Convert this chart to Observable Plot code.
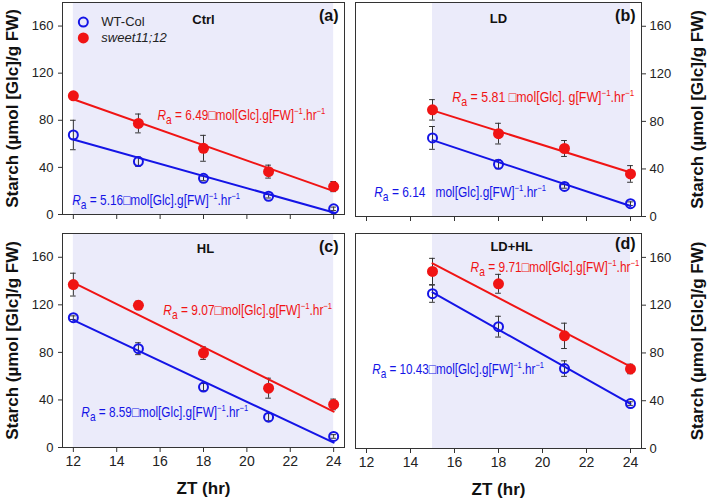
<!DOCTYPE html>
<html><head><meta charset="utf-8">
<script src="https://cdn.jsdelivr.net/npm/d3@7"></script>
<script src="https://cdn.jsdelivr.net/npm/@observablehq/plot@0.6"></script>
<style>
body{margin:0;background:#fff;}
#chart{position:relative;width:709px;height:502px;font-family:"Liberation Sans",Arial,sans-serif;}
#chart svg{position:absolute;}
</style></head><body><div id="chart"></div>
<script>
// ---- data ----
const zt5 = [12, 15, 18, 21, 24];
const zt4 = [15, 18, 21, 24];
const xTicks = [12, 14, 16, 18, 20, 22, 24];
const yTicks = [0, 40, 80, 120, 160];
const seriesNames = ["WT-Col", "sweet11;12"];
const panelTags = ["(a)", "(b)", "(c)", "(d)"];
const panelTitles = ["Ctrl", "LD", "HL", "LD+HL"];
const darkStart = [12, 15, 12, 15];

const ctrlWT = [67.5, 44.9, 30.7, 15.5, 4.8];
const ctrlWTerr = [12.5, 4, 2, 1.5, 1.5];
const ctrlSW = [100.8, 77.3, 56.2, 36.4, 23.7];
const ctrlSWerr = [3, 8, 11, 5.5, 4.3];

const ldWT = [66.1, 43.9, 25.3, 10.8];
const ldWTerr = [9.6, 3.7, 1.5, 1.5];
const ldSW = [89.7, 69.7, 57.2, 35.8];
const ldSWerr = [8.6, 8.7, 6.7, 7];

const hlWT = [109.2, 83.1, 50.8, 25.5, 9.3];
const hlWTerr = [1.5, 5, 3, 3, 1.5];
const hlSW = [137, 119.6, 79.4, 49.9, 36.2];
const hlSWerr = [9.6, 3.5, 5.3, 8.4, 4.5];

const ldhlWT = [129.6, 102, 66.9, 37.6];
const ldhlWTerr = [7.2, 8.7, 6.5, 1.5];
const ldhlSW = [148.2, 137.9, 94.3, 66.6];
const ldhlSWerr = [11, 7.9, 10.6, 4];

// annotation texts (R_a rates)
const rateWT = ["= 5.16\u25A1mol[Glc].g[FW]", "= 6.14   mol[Glc].g[FW]", "= 8.59\u25A1mol[Glc].g[FW]", "= 10.43\u25A1mol[Glc].g[FW]"];
const rateSW = ["= 6.49\u25A1mol[Glc].g[FW]", "= 5.81 \u25A1mol[Glc]. g[FW]", "= 9.07\u25A1mol[Glc].g[FW]", "= 9.71\u25A1mol[Glc].g[FW]"];
// annotation anchors (ZT, starch)
const annWTpos = [[11.95, 11.9], [12.35, 20.3], [12.37, 29.7], [12.26, 66.1]];
const annSWpos = [[15.88, 83.8], [15.9, 100.3], [16.15, 115.4], [16.73, 151.7]];
// rendered widths of annotations (px), narrow typeface look
const annWTwidth = [168, 172, 167, 172];
const annSWwidth = [168, 182, 169, 169];

const BLUE = "#1414e6", RED = "#f01414", SHADE = "#ebebfa", INK = "#333";
const yLabel = "Starch (\u00B5mol [Glc]/g FW)";

const panelData = [
  {xs: zt5, wt: ctrlWT, wte: ctrlWTerr, sw: ctrlSW, swe: ctrlSWerr},
  {xs: zt4, wt: ldWT, wte: ldWTerr, sw: ldSW, swe: ldSWerr},
  {xs: zt5, wt: hlWT, wte: hlWTerr, sw: hlSW, swe: hlSWerr},
  {xs: zt4, wt: ldhlWT, wte: ldhlWTerr, sw: ldhlSW, swe: ldhlSWerr}
];

// layout
const layout = [
  {left: 0, top: 0, width: 355, height: 232, ml: 62, mr: 11, mt: 2, mb: 18, side: "left", xlab: false, titleDx: 0, titleDy: 12, tagDy: 7},
  {left: 344, top: 0, width: 365, height: 232, ml: 11, mr: 68, mt: 2, mb: 16, side: "right", xlab: false, titleDx: 0, titleDy: 11, tagDy: 7},
  {left: 0, top: 224, width: 355, height: 278, ml: 62, mr: 11, mt: 9, mb: 55, side: "left", xlab: true, titleDx: 2, titleDy: 10, tagDy: 7},
  {left: 344, top: 224, width: 365, height: 278, ml: 11, mr: 68, mt: 9, mb: 54, side: "right", xlab: true, titleDx: 13, titleDy: 8, tagDy: 4}
];

const chart = document.getElementById("chart");

function seriesMarks(rows, color, filled) {
  return [
    Plot.ruleX(rows, {x: "x", y1: d => d.y - d.e, y2: d => d.y + d.e, stroke: INK, strokeWidth: 1}),
    Plot.ruleY(rows, {y: d => d.y + d.e, x1: d => d.x - 0.13, x2: d => d.x + 0.13, stroke: INK, strokeWidth: 1}),
    Plot.ruleY(rows, {y: d => d.y - d.e, x1: d => d.x - 0.13, x2: d => d.x + 0.13, stroke: INK, strokeWidth: 1}),
    Plot.linearRegressionY(rows, {x: "x", y: "y", stroke: color, strokeWidth: 2, ci: 0}),
    filled
      ? Plot.dot(rows, {x: "x", y: "y", r: 5.5, fill: color, stroke: "none"})
      : Plot.dot(rows, {x: "x", y: "y", r: 4.5, fill: "none", stroke: color, strokeWidth: 2})
  ];
}

panelData.forEach((p, i) => {
  const L = layout[i];
  const wtRows = p.xs.map((x, j) => ({x, y: p.wt[j], e: p.wte[j]}));
  const swRows = p.xs.map((x, j) => ({x, y: p.sw[j], e: p.swe[j]}));
  const ann = [
    {x: annWTpos[i][0], y: annWTpos[i][1], t: "R|a|" + rateWT[i] + "|\u22121|.hr|\u22121", c: BLUE, w: annWTwidth[i]},
    {x: annSWpos[i][0], y: annSWpos[i][1], t: "R|a|" + rateSW[i] + "|\u22121|.hr|\u22121", c: RED, w: annSWwidth[i]}
  ];
  const marks = [
    Plot.rect([{x1: darkStart[i], x2: 24}], {x1: "x1", x2: "x2", fill: SHADE}),
    Plot.frame({stroke: INK, strokeWidth: 1}),
    Plot.axisX({ticks: xTicks, tickSize: 5, tickPadding: 4, fontSize: 14, tickFormat: L.xlab ? (d => d) : (() => ""), label: null, stroke: INK}),
    Plot.axisY({anchor: L.side, ticks: yTicks, tickSize: 4, tickPadding: L.side === "left" ? 5 : 4, fontSize: 13, label: null, stroke: INK}),
    ...seriesMarks(wtRows, BLUE, false),
    ...seriesMarks(swRows, RED, true),
    Plot.text([panelTitles[i]], {text: d => d, frameAnchor: "top", dx: L.titleDx, dy: L.titleDy, fontWeight: "bold", fontSize: 13, fill: "#111"}),
    Plot.text([panelTags[i]], {text: d => d, frameAnchor: "top-right", textAnchor: "end", dx: -6, dy: L.tagDy, fontWeight: "bold", fontSize: 16, fill: "#111"}),
    Plot.text(ann, {x: "x", y: "y", text: "t", fill: "c", textAnchor: "start", fontSize: 14, fontFamily: "'Liberation Sans',Arial,sans-serif", className: "ann"}),
    Plot.text([yLabel], {text: d => d, frameAnchor: L.side, textAnchor: "middle", lineAnchor: "middle", dx: L.side === "left" ? -50 : 56, rotate: -90, fontWeight: "bold", fontSize: 17, fill: "#111"})
  ];
  if (L.xlab) {
    marks.push(Plot.text(["ZT (hr)"], {text: d => d, frameAnchor: "bottom", dy: 46, fontWeight: "bold", fontSize: 17, fill: "#111"}));
  }
  if (i === 0) {
    const leg = [
      {x: 12.46, y: 163.4, name: seriesNames[0]},
      {x: 12.46, y: 149.9, name: seriesNames[1]}
    ];
    marks.push(Plot.dot([leg[0]], {x: "x", y: "y", r: 4.5, fill: "none", stroke: BLUE, strokeWidth: 2}));
    marks.push(Plot.dot([leg[1]], {x: "x", y: "y", r: 5.5, fill: RED}));
    marks.push(Plot.text([leg[0]], {x: "x", y: "y", text: "name", textAnchor: "start", dx: 18, fontSize: 13, fill: "#222"}));
    marks.push(Plot.text([leg[1]], {x: "x", y: "y", text: "name", textAnchor: "start", dx: 18, fontSize: 13, fontStyle: "italic", fill: "#222"}));
  }
  const svg = Plot.plot({
    width: L.width, height: L.height,
    marginLeft: L.ml, marginRight: L.mr, marginTop: L.mt, marginBottom: L.mb,
    x: {domain: [11.5, 24.5]},
    y: {domain: [0, 180]},
    style: {background: "transparent", fontFamily: "'Liberation Sans',Arial,sans-serif", fontSize: "13px", color: "#222", overflow: "visible"},
    marks
  });
  svg.style.left = L.left + "px";
  svg.style.top = L.top + "px";
  chart.appendChild(svg);
  // rich text for R_a annotations, condensed to the reference's narrow face
  svg.querySelectorAll("g.ann text").forEach((t, k) => {
    const parts = t.textContent.split("|");
    t.textContent = "";
    t.style.whiteSpace = "pre";
    const ns = "http://www.w3.org/2000/svg";
    const add = (txt, attrs) => {
      const s = document.createElementNS(ns, "tspan");
      s.textContent = txt;
      for (const a in attrs) s.setAttribute(a, attrs[a]);
      t.appendChild(s);
    };
    add(parts[0], {"font-style": "italic"});
    add(parts[1], {"font-size": 12, dy: 4});
    add(" " + parts[2], {dy: -4});
    add(parts[3], {"font-size": 9, dy: -6});
    add(parts[4], {dy: 6});
    add(parts[5], {"font-size": 9, dy: -6});
    const len = t.getComputedTextLength();
    const target = ann[k].w;
    if (len > 0) {
      const s = target / len;
      const tr = t.getAttribute("transform") || "";
      const x = +t.getAttribute("x") || 0, y = +t.getAttribute("y") || 0;
      t.setAttribute("transform", `${tr} translate(${x},${y}) scale(${s},1) translate(${-x},${-y})`);
    }
  });
});
</script>
</body></html>
